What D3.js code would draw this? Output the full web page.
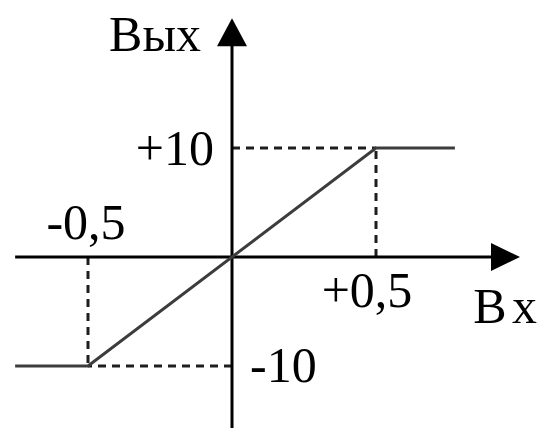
<!DOCTYPE html>
<html>
<head>
<meta charset="utf-8">
<script src="https://cdn.jsdelivr.net/npm/d3@7"></script>
<style>
  body { margin: 0; background: #fff; }
  text { font-family: "Liberation Serif", "DejaVu Serif", serif; fill: #000; }
</style>
</head>
<body>
<div id="app"></div>
<script>
// characteristic: input (Вх) -> output (Вых)
const inputs = [-0.753, -0.5, 0.5, 0.774];
const outputs = [-10, -10, 10, 10];
const xRange = [-0.753, 1.0];      // x axis extent (arrow tip at right)
const yRange = [-15.7, 21.9];      // y axis extent (arrow tip at top)
const xTicks = [{v: -0.5, label: "-0,5"}, {v: 0.5, label: "+0,5"}];
const yTicks = [{v: 10, label: "+10"}, {v: -10, label: "-10"}];
const xTitle = "Вх";
const yTitle = "Вых";

const width = 546, height = 428;

const svg = d3.select("#app")
    .append("svg")
        .attr("width", width)
        .attr("height", height);

const x = d3.scaleLinear().domain([-0.5, 0.5]).range([88, 376]);
const y = d3.scaleLinear().domain([-10, 10]).range([366, 148]);

// dashed guides
const guides = svg.append("g")
    .attr("stroke", "#1e1e1e")
    .attr("stroke-width", 3)
    .attr("stroke-dasharray", "8,6")
    .attr("fill", "none");
[[0.5, 10], [-0.5, -10]].forEach(([vx, vy]) => {
    guides.append("line")
        .attr("x1", x(0)).attr("y1", y(vy))
        .attr("x2", x(vx)).attr("y2", y(vy));
    guides.append("line")
        .attr("x1", x(vx)).attr("y1", y(0))
        .attr("x2", x(vx)).attr("y2", y(vy));
});

// axes
const axisG = svg.append("g");
axisG.append("line")
    .attr("x1", x(xRange[0])).attr("y1", y(0))
    .attr("x2", x(xRange[1]) - 20).attr("y2", y(0))
    .attr("stroke", "#000").attr("stroke-width", 3);
axisG.append("line")
    .attr("x1", x(0)).attr("y1", y(yRange[0]))
    .attr("x2", x(0)).attr("y2", y(yRange[1]) + 20)
    .attr("stroke", "#000").attr("stroke-width", 3);
// arrow heads
const tipX = x(xRange[1]), tipY = y(yRange[1]);
axisG.append("path")
    .attr("d", `M${tipX},${y(0)} L${tipX - 29},${y(0) - 14} L${tipX - 29},${y(0) + 14} Z`)
    .attr("fill", "#000");
axisG.append("path")
    .attr("d", `M${x(0)},${tipY} L${x(0) - 15},${tipY + 28} L${x(0) + 15},${tipY + 28} Z`)
    .attr("fill", "#000");

// characteristic line
svg.append("path")
    .datum(inputs.map((d, i) => [d, outputs[i]]))
    .attr("fill", "none")
    .attr("stroke", "#3c3c3c")
    .attr("stroke-width", 3)
    .attr("d", d3.line()
        .x(d => x(d[0]))
        .y(d => y(d[1])));

// labels
const fs = 50;
svg.append("text")
    .attr("x", x(0) - 31).attr("y", tipY + 33)
    .attr("text-anchor", "end")
    .attr("font-size", fs)
    .text(yTitle);
svg.append("text")
    .attr("x", 543).attr("y", y(0) + 66)
    .attr("text-anchor", "end")
    .attr("font-size", fs)
    .attr("letter-spacing", 6)
    .text(xTitle);

svg.append("text")
    .attr("x", x(0) - 18).attr("y", y(yTicks[0].v) + 17)
    .attr("text-anchor", "end")
    .attr("font-size", fs)
    .text(yTicks[0].label);
svg.append("text")
    .attr("x", x(0) + 18).attr("y", y(yTicks[1].v) + 16)
    .attr("text-anchor", "start")
    .attr("font-size", fs)
    .text(yTicks[1].label);
svg.append("text")
    .attr("x", x(xTicks[0].v) - 2).attr("y", y(0) - 18)
    .attr("text-anchor", "middle")
    .attr("font-size", fs)
    .text(xTicks[0].label);
svg.append("text")
    .attr("x", x(xTicks[1].v) - 9).attr("y", y(0) + 50)
    .attr("text-anchor", "middle")
    .attr("font-size", fs)
    .text(xTicks[1].label);
</script>
</body>
</html>
